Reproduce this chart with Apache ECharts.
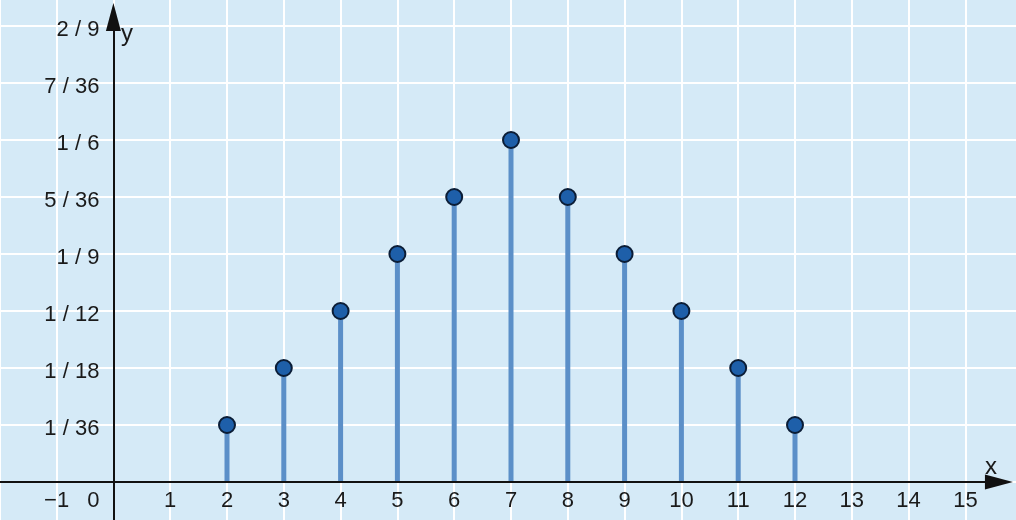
<!DOCTYPE html>
<html>
<head>
<meta charset="utf-8">
<script src="https://cdn.jsdelivr.net/npm/echarts@6/dist/echarts.min.js"></script>
<style>
html,body{margin:0;padding:0;background:#d5eaf7;}
#c{width:1016px;height:520px;}
</style>
</head>
<body>
<div id="c"></div>
<script>
// Sum of two dice: outcomes and number of ways (out of 36)
const sums = [2, 3, 4, 5, 6, 7, 8, 9, 10, 11, 12];
const ways36 = [1, 2, 3, 4, 5, 6, 5, 4, 3, 2, 1];
// y tick labels, indexed by value in 36ths
const yTickLabels = ['', '1 / 36', '1 / 18', '1 / 12', '1 / 9', '5 / 36', '1 / 6', '7 / 36', '2 / 9'];
// x tick labels for -2..15
const xTickValues = [-2, -1, 0, 1, 2, 3, 4, 5, 6, 7, 8, 9, 10, 11, 12, 13, 14, 15];
const xTickLabels = ['', '\u22121', '0', '1', '2', '3', '4', '5', '6', '7', '8', '9', '10', '11', '12', '13', '14', '15'];

const FONT = "'Liberation Sans', Arial, sans-serif";
const TXT = '#1a1a1a';

const points = sums.map((s, i) => [s, ways36[i]]);

const chart = echarts.init(document.getElementById('c'), null, {renderer: 'canvas'});
chart.setOption({
  backgroundColor: '#d5eaf7',
  animation: false,
  grid: {left: -0.2, right: -6.2, top: -31, bottom: -19, containLabel: false, outerBoundsMode: 'none'},
  xAxis: {
    type: 'value', min: -2, max: 16, interval: 1,
    position: 'bottom', offset: -57,
    axisLine: {show: false, onZero: false},
    axisTick: {show: false},
    splitLine: {show: true, lineStyle: {color: '#ffffff', width: 2}},
    axisLabel: {
      margin: 8, fontSize: 22, fontFamily: FONT, color: TXT,
      showMinLabel: true, showMaxLabel: true, hideOverlap: false,
      formatter: function (v) {
        const i = xTickValues.indexOf(Math.round(v));
        if (i < 0) return '';
        if (Math.round(v) === 0) return '{z|' + xTickLabels[i] + '}';
        return xTickLabels[i];
      },
      rich: {z: {fontSize: 22, fontFamily: FONT, color: TXT, padding: [0, 40, 0, 0]}}
    }
  },
  yAxis: {
    type: 'value', min: -1, max: 9, interval: 1,
    position: 'left', offset: -113.6,
    axisLine: {show: false, onZero: false},
    axisTick: {show: false},
    splitLine: {show: true, lineStyle: {color: '#ffffff', width: 2}},
    axisLabel: {
      margin: 14, fontSize: 22, fontFamily: FONT, color: TXT, hideOverlap: false,
      showMinLabel: true, showMaxLabel: true,
      formatter: function (v) {
        const k = Math.round(v);
        const t = (k >= 0 && k < yTickLabels.length) ? yTickLabels[k] : '';
        return t ? '{a|' + t + '}' : '';
      },
      rich: {a: {fontSize: 22, fontFamily: FONT, color: TXT, padding: [7, 0, 0, 0]}}
    }
  },
  series: [
    {
      type: 'bar',
      data: points,
      barWidth: 5,
      itemStyle: {color: '#5b8fc8'},
      z: 3,
      silent: true
    },
    {
      type: 'scatter',
      data: points,
      symbol: 'circle',
      symbolSize: 16,
      itemStyle: {color: '#1e5fa9', borderColor: '#0b1d36', borderWidth: 2, opacity: 1},
      z: 5,
      silent: true,
      markLine: {
        silent: true,
        animation: false,
        symbol: ['none', 'triangle'],
        symbolSize: [15, 28],
        label: {show: false},
        lineStyle: {color: '#111111', width: 2, type: 'solid'},
        emphasis: {disabled: true},
        data: [
          [{coord: [-2, 0]}, {coord: [15.59, 0]}],
          [{coord: [0, -1]}, {coord: [0, 8.16]}]
        ]
      }
    }
  ],
  graphic: [
    {type: 'text', left: 985, top: 455, style: {text: 'x', fontSize: 24, fontFamily: FONT, fill: TXT}, z: 10},
    {type: 'text', left: 121, top: 22, style: {text: 'y', fontSize: 24, fontFamily: FONT, fill: TXT}, z: 10}
  ]
});
</script>
</body>
</html>
